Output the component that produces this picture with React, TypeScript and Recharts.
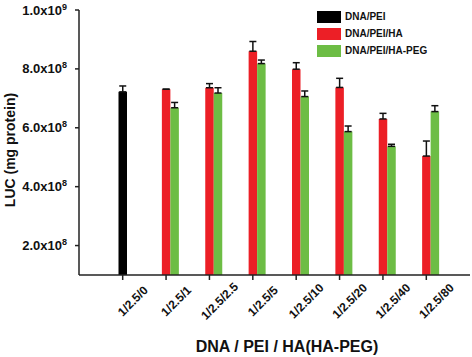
import { BarChart, Bar, XAxis, YAxis, ErrorBar, Legend } from "recharts"

const categories = ["1/2.5/0", "1/2.5/1", "1/2.5/2.5", "1/2.5/5", "1/2.5/10", "1/2.5/20", "1/2.5/40", "1/2.5/80"]

const peiValues = [7.22e8, null, null, null, null, null, null, null]
const peiErrors = [2.0e7, null, null, null, null, null, null, null]

const haValues = [null, 7.31e8, 7.36e8, 8.6e8, 7.99e8, 7.37e8, 6.3e8, 5.04e8]
const haErrors = [null, 0, 1.4e7, 3.3e7, 2.2e7, 3.1e7, 1.9e7, 5.1e7]

const hapegValues = [null, 6.68e8, 7.18e8, 8.18e8, 7.06e8, 5.87e8, 5.37e8, 6.55e8]
const hapegErrors = [null, 1.8e7, 1.8e7, 1.2e7, 1.9e7, 1.9e7, 7e6, 2.0e7]

const yTicks = [2e8, 4e8, 6e8, 8e8, 1e9]

const FONT = "Arial, 'Liberation Sans', sans-serif"
const RED = "#ec1f26"
const GREEN = "#6dbd45"

// error bars are one-sided (upper only)
const upper = (e: number | null) => (e == null ? null : [0, e])

const data = categories.map((name, i) => ({
  name,
  pei: peiValues[i],
  peiErr: upper(peiErrors[i]),
  ha: haValues[i],
  haErr: upper(haErrors[i]),
  hapeg: hapegValues[i],
  hapegErr: upper(hapegErrors[i]),
}))

function YTick({ x, y, payload }: any) {
  const v = payload.value as number
  const exp = Math.floor(Math.log10(v))
  const mant = (v / Math.pow(10, exp)).toFixed(1)
  return (
    <text x={x - 6} y={y} textAnchor="end" fontFamily={FONT} fontWeight="bold" fontSize={13} fill="#111">
      <tspan dy="0.35em">{mant}x10</tspan>
      <tspan dy={-5} fontSize={9}>{exp}</tspan>
    </text>
  )
}

function XTick({ x, y, payload }: any) {
  return (
    <g transform={`translate(${x},${y})`}>
      <text
        x={10}
        y={19}
        dy="0.35em"
        textAnchor="middle"
        transform="rotate(-45, 10, 19)"
        fontFamily={FONT}
        fontWeight="bold"
        fontSize={12}
        fill="#111"
      >
        {payload.value}
      </text>
    </g>
  )
}

function YLabel() {
  return (
    <text
      x={10}
      y={150}
      dy="0.35em"
      textAnchor="middle"
      transform="rotate(-90, 10, 150)"
      fontFamily={FONT}
      fontWeight="bold"
      fontSize={14}
      fill="#111"
    >
      LUC (mg protein)
    </text>
  )
}

function XLabel() {
  return (
    <text x={287} y={346} dy="0.35em" textAnchor="middle" fontFamily={FONT} fontWeight="bold" fontSize={16} fill="#111">
      DNA / PEI / HA(HA-PEG)
    </text>
  )
}

function LegendBox({ payload }: any) {
  const items = (payload ?? []).filter((e: any) => e.type !== "none" && e.value !== "slot")
  return (
    <div>
      {items.map((entry: any) => (
        <div key={entry.value} style={{ display: "flex", alignItems: "center", height: 17 }}>
          <span style={{ display: "inline-block", width: 24, height: 12, background: entry.color, marginRight: 4 }} />
          <span style={{ fontFamily: FONT, fontWeight: "bold", fontSize: 10, color: "#111" }}>{entry.value}</span>
        </div>
      ))}
    </div>
  )
}

export default function App() {
  return (
    <div style={{ position: "absolute", left: 0, top: 0, background: "#fff" }}>
      <BarChart
        width={472}
        height={357}
        data={data}
        margin={{ top: 10, right: 2, left: 0, bottom: 0 }}
        barSize={8.5}
        barGap={0}
      >
        <XAxis
          dataKey="name"
          height={82}
          padding={{ left: 22, right: 22 }}
          interval={0}
          tick={<XTick />}
          tickSize={5}
          tickMargin={2}
          tickLine={{ stroke: "#222", strokeWidth: 1.5 }}
          stroke="#222"
          strokeWidth={1.5}
          label={<XLabel />}
        />
        <YAxis
          width={79}
          domain={[1e8, 1e9]}
          ticks={yTicks}
          allowDataOverflow
          tick={<YTick />}
          tickSize={4}
          tickMargin={2}
          tickLine={{ stroke: "#222", strokeWidth: 1.5 }}
          stroke="#222"
          strokeWidth={1.5}
          label={<YLabel />}
        />
        {/* horizontal + middle keeps recharts from reserving room for the legend */}
        <Legend
          layout="horizontal"
          verticalAlign="middle"
          align="center"
          wrapperStyle={{ left: 317, top: 8, width: 150 }}
          content={<LegendBox />}
        />
        {/* empty slot so the black/red bar sits on the category tick */}
        <Bar dataKey="slot" stackId="s" legendType="none" isAnimationActive={false} />
        <Bar dataKey="pei" name="DNA/PEI" stackId="a" fill="#000" isAnimationActive={false}>
          <ErrorBar dataKey="peiErr" width={3.5} stroke="#111" strokeWidth={1.5} direction="y" />
        </Bar>
        <Bar dataKey="ha" name="DNA/PEI/HA" stackId="a" fill={RED} isAnimationActive={false}>
          <ErrorBar dataKey="haErr" width={3.5} stroke="#111" strokeWidth={1.5} direction="y" />
        </Bar>
        <Bar dataKey="hapeg" name="DNA/PEI/HA-PEG" stackId="g" fill={GREEN} isAnimationActive={false}>
          <ErrorBar dataKey="hapegErr" width={3.5} stroke="#111" strokeWidth={1.5} direction="y" />
        </Bar>
      </BarChart>
    </div>
  )
}
